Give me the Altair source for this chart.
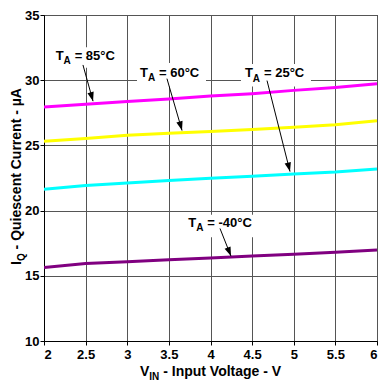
import math
import altair as alt
import pandas as pd

FONT = "Liberation Sans"

# ---- data ----
vin = [2.0, 2.5, 3.0, 3.5, 4.0, 4.5, 5.0, 5.5, 6.0]
iq_85 = [27.94, 28.16, 28.37, 28.56, 28.78, 28.97, 29.22, 29.44, 29.72]
iq_60 = [25.32, 25.52, 25.77, 25.94, 26.07, 26.22, 26.39, 26.59, 26.89]
iq_25 = [21.64, 21.92, 22.12, 22.31, 22.49, 22.63, 22.81, 22.96, 23.19]
iq_m40 = [15.63, 15.95, 16.08, 16.23, 16.36, 16.51, 16.66, 16.81, 16.98]
series_names = ["85", "60", "25", "-40"]
series_colors = ["#FF00FF", "#FFFF00", "#00FFFF", "#800080"]

# annotation labels
label_text = ["= 85°C", "= 60°C", "= 25°C", "= -40°C"]
label_x = [2.14, 3.153, 4.414, 3.733]
label_y = [31.55, 30.27, 30.22, 18.76]
# white boxes behind labels
box_x1 = [2.096, 3.117, 4.366, 3.685]
box_x2 = [2.949, 3.946, 5.207, 4.574]
box_y1 = [30.95, 29.52, 29.52, 17.95]
box_y2 = [32.52, 31.32, 31.25, 19.68]
# arrows (start -> tip)
arr_x1 = [2.468, 3.477, 4.679, 4.114]
arr_y1 = [31.17, 30.12, 29.97, 18.63]
arr_x2 = [2.589, 3.658, 4.955, 4.246]
arr_y2 = [28.39, 26.14, 22.99, 16.51]

x_ticks = [2, 2.5, 3, 3.5, 4, 4.5, 5, 5.5, 6]
y_ticks = [10, 15, 20, 25, 30, 35]

W, H = 333, 326
XD = [2, 6]
YD = [10, 35]

rows = []
for name, vals in zip(series_names, [iq_85, iq_60, iq_25, iq_m40]):
    for xv, yv in zip(vin, vals):
        rows.append({"vin": xv, "iq": yv, "series": name})
df_lines = pd.DataFrame(rows)

df_lab = pd.DataFrame({"x": label_x, "y": label_y, "rest": label_text})
df_box = pd.DataFrame({"x1": box_x1, "x2": box_x2, "y1": box_y1, "y2": box_y2})
pxu = W / (XD[1] - XD[0])
pyu = H / (YD[1] - YD[0])
angles = [math.degrees(math.atan2((b - a) * pxu, (d - c) * pyu))
          for a, b, c, d in zip(arr_x1, arr_x2, arr_y1, arr_y2)]
df_arr = pd.DataFrame({"x1": arr_x1, "y1": arr_y1, "x2": arr_x2, "y2": arr_y2,
                       "angle": angles})

xs = alt.Scale(domain=XD, nice=False, zero=False)
ys = alt.Scale(domain=YD, nice=False, zero=False)
xaxis = alt.Axis(values=x_ticks, title=None, grid=True, format="~g",
                 labelPadding=3)
yaxis = alt.Axis(values=y_ticks, title=None, grid=True, labelPadding=1)

lines = alt.Chart(df_lines).mark_line(strokeWidth=3, clip=True).encode(
    x=alt.X("vin:Q", scale=xs, axis=xaxis),
    y=alt.Y("iq:Q", scale=ys, axis=yaxis),
    color=alt.Color("series:N", scale=alt.Scale(domain=series_names, range=series_colors),
                    legend=None),
)

boxes = alt.Chart(df_box).mark_rect(color="white").encode(
    x=alt.X("x1:Q", scale=xs), x2="x2", y=alt.Y("y1:Q", scale=ys), y2="y2")

rules = alt.Chart(df_arr).mark_rule(color="black", strokeWidth=1).encode(
    x=alt.X("x1:Q", scale=xs), y=alt.Y("y1:Q", scale=ys), x2="x2", y2="y2")

heads = alt.Chart(df_arr).mark_point(
    shape="M0,0L-0.4,1.15L0.4,1.15Z", filled=True, color="black", opacity=1,
    size=256, strokeWidth=0).encode(
    x=alt.X("x2:Q", scale=xs), y=alt.Y("y2:Q", scale=ys), angle=alt.Angle("angle:Q", scale=None))

tbase = dict(font=FONT, fontWeight="bold", color="black", align="left", baseline="alphabetic")
t_T = alt.Chart(df_lab).mark_text(text="T", fontSize=13, **tbase).encode(
    x=alt.X("x:Q", scale=xs), y=alt.Y("y:Q", scale=ys))
t_A = alt.Chart(df_lab).mark_text(text="A", fontSize=10, dx=7.9, dy=4.5, **tbase).encode(
    x=alt.X("x:Q", scale=xs), y=alt.Y("y:Q", scale=ys))
t_R = alt.Chart(df_lab).mark_text(fontSize=13, dx=19.0, **tbase).encode(
    x=alt.X("x:Q", scale=xs), y=alt.Y("y:Q", scale=ys), text="rest:N")

one = pd.DataFrame({"a": [0]})
def ptext(txt, x, y, size, angle=0):
    kw = dict(tbase)
    if angle:
        kw["angle"] = angle
    return alt.Chart(one).mark_text(text=txt, fontSize=size, **kw).encode(
        x=alt.value(x), y=alt.value(y))

# plot origin is at page (44, 15)
xt = ptext("V", 96, 361, 14) + ptext("IN", 105.3, 364.5, 10) + \
    ptext("- Input Voltage - V", 119.2, 361, 14)
yt = ptext("I", -23, 250, 14, 270) + ptext("Q", -19, 246.1, 10, 270) + \
    ptext("- Quiescent Current - µA", -23, 234.4, 14, 270)

chart = alt.layer(boxes, lines, rules, heads, t_T, t_A, t_R, xt, yt).properties(
    width=W, height=H,
    autosize=alt.AutoSizeParams(type="none"),
    padding={"left": 36, "top": 7, "right": 5, "bottom": 40},
).configure_view(stroke="black", strokeWidth=1).configure_axis(
    labelFont=FONT, labelFontWeight="bold", labelFontSize=13, labelColor="black",
    domainColor="black", tickColor="black", tickSize=4,
    gridColor="#555555", gridWidth=1, gridOpacity=1,
)

chart.save("out.html", embed_options={"renderer": "svg", "actions": False})
